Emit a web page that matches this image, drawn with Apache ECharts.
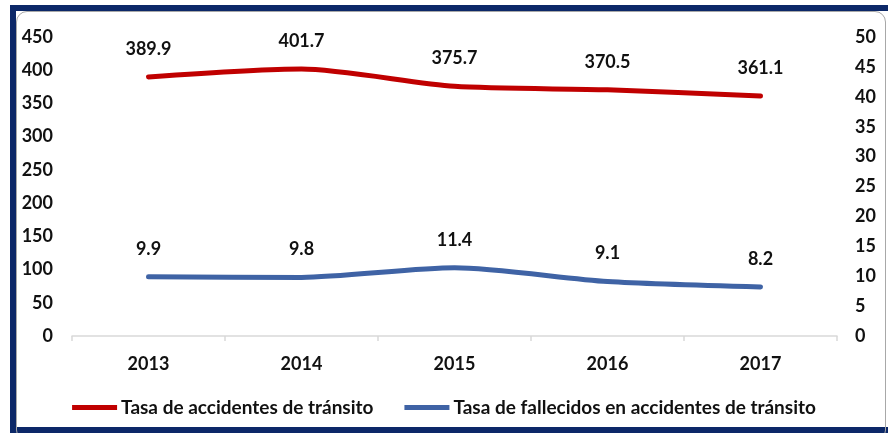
<!DOCTYPE html>
<html>
<head>
<meta charset="utf-8">
<script src="https://cdn.jsdelivr.net/npm/echarts@6/dist/echarts.min.js"></script>
<style>
	html, body { margin: 0; padding: 0; background: #fff; }
	#wrap { position: relative; width: 888px; height: 433px; overflow: hidden; }
	#frame { position: absolute; left: 10px; top: 5px; width: 900px; height: 428px; box-sizing: border-box; border: 6px solid #0c2868; border-right: none; }
	#inner { position: absolute; left: 16px; top: 11px; width: 870px; height: 430px; box-sizing: border-box; border: 1px solid #a8a8a8; border-radius: 11px; }
	#chart { position: absolute; left: 0; top: 0; width: 888px; height: 433px; }
</style>
</head>
<body>
<div id="wrap">
	<div id="frame"></div>
	<div id="inner"></div>
	<div id="chart"></div>
</div>
<script>
var years = ["2013", "2014", "2015", "2016", "2017"];
var accidentes = [389.9, 401.7, 375.7, 370.5, 361.1];
var fallecidos = [9.9, 9.8, 11.4, 9.1, 8.2];
var nameAcc = "Tasa de accidentes de tránsito";
var nameFal = "Tasa de fallecidos en accidentes de tránsito";

var fontFam = "Lato, 'Open Sans', sans-serif",
	txtColor = "#111";

var myChart = echarts.init(document.getElementById("chart"), null, { renderer: "canvas" });

function boldText(size) {
	return {
		fontFamily: fontFam,
		fontWeight: "bold",
		fontSize: size,
		color: txtColor
	};
}

var option = {
	animation: false,
	grid: {
		left: 72,
		right: 51,
		top: 37,
		bottom: 97
	},
	legend: {
		bottom: 11,
		left: "center",
		itemWidth: 45,
		itemHeight: 5,
		itemGap: 31,
		icon: "rect",
		textStyle: Object.assign(boldText(19), { padding: [0, 0, 0, -1] }),
		data: [nameAcc, nameFal]
	},
	xAxis: {
		type: "category",
		data: years,
		boundaryGap: true,
		axisLine: { lineStyle: { color: "#d9d9d9", width: 1.5 } },
		axisTick: { show: true, length: 5, lineStyle: { color: "#d9d9d9", width: 1.5 } },
		axisLabel: Object.assign(boldText(18), { margin: 19 })
	},
	yAxis: [
		{
			type: "value",
			min: 0,
			max: 450,
			interval: 50,
			splitLine: { show: false },
			axisLine: { show: false },
			axisTick: { show: false },
			axisLabel: Object.assign(boldText(18), { margin: 19 })
		},
		{
			type: "value",
			min: 0,
			max: 50,
			interval: 5,
			position: "right",
			splitLine: { show: false },
			axisLine: { show: false },
			axisTick: { show: false },
			axisLabel: Object.assign(boldText(18), { margin: 18 })
		}
	],
	series: [
		{
			name: nameAcc,
			type: "line",
			yAxisIndex: 0,
			data: accidentes,
			smooth: 0.25,
			symbol: "circle",
			symbolSize: 0,
			itemStyle: { color: "#c00000" },
			lineStyle: { color: "#c00000", width: 5, cap: "round" },
			label: Object.assign(boldText(18), { show: true, position: "top", distance: 19 })
		},
		{
			name: nameFal,
			type: "line",
			yAxisIndex: 1,
			data: fallecidos,
			smooth: 0.25,
			symbol: "circle",
			symbolSize: 0,
			itemStyle: { color: "#3f63a5" },
			lineStyle: { color: "#3f63a5", width: 5, cap: "round" },
			label: Object.assign(boldText(18), { show: true, position: "top", distance: 19 })
		}
	]
};

myChart.setOption(option);
</script>
</body>
</html>
